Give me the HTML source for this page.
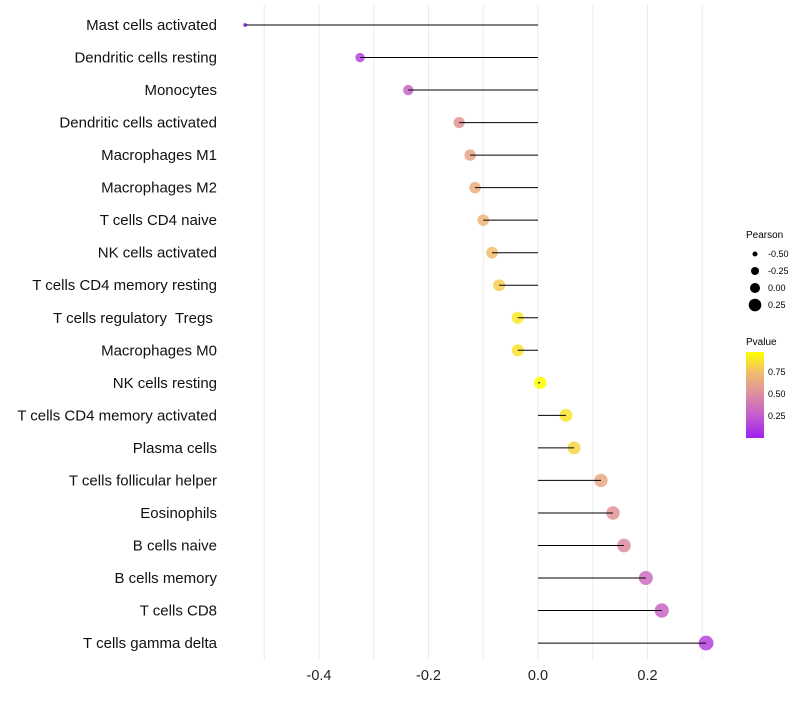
<!DOCTYPE html>
<html><head><meta charset="utf-8"><style>
body{margin:0;background:#fff;font-family:"Liberation Sans",sans-serif}
</style></head><body>
<svg id="chart" width="800" height="700" xmlns="http://www.w3.org/2000/svg">
<defs><linearGradient id="pg" x1="0" y1="1" x2="0" y2="0">
<stop offset="0" stop-color="#A020F0"/><stop offset="0.25" stop-color="#C25AD0"/>
<stop offset="0.5" stop-color="#DC8CA0"/><stop offset="0.75" stop-color="#F0BA70"/><stop offset="1" stop-color="#FFFF00"/>
</linearGradient></defs>
<g id="grid"></g><g id="points"></g><g id="stems"></g><g id="labels"></g>
<g font-size="9" fill="#000">
<text x="746" y="238" font-size="10">Pearson</text>
<circle cx="755" cy="254" r="2.5"/><text x="768" y="257">-0.50</text>
<circle cx="755" cy="271" r="4"/><text x="768" y="274">-0.25</text>
<circle cx="755" cy="288" r="5"/><text x="768" y="291">0.00</text>
<circle cx="755" cy="305" r="6.3"/><text x="768" y="308">0.25</text>
</g>
<g font-size="9" fill="#000">
<text x="746" y="345" font-size="10">Pvalue</text>
<rect x="746" y="352" width="18" height="86" fill="url(#pg)"/>
<text x="768" y="375">0.75</text><text x="768" y="397">0.50</text><text x="768" y="419">0.25</text>
</g>
</svg>
<script>
const categories=["Mast cells activated","Dendritic cells resting","Monocytes","Dendritic cells activated","Macrophages M1","Macrophages M2","T cells CD4 naive","NK cells activated","T cells CD4 memory resting","T cells regulatory  Tregs ","Macrophages M0","NK cells resting","T cells CD4 memory activated","Plasma cells","T cells follicular helper","Eosinophils","B cells naive","B cells memory","T cells CD8","T cells gamma delta"];
const pearson=[-0.535,-0.325,-0.237,-0.144,-0.124,-0.115,-0.100,-0.084,-0.071,-0.037,-0.037,0.004,0.051,0.066,0.115,0.137,0.157,0.197,0.226,0.307];
const pvalue=[0.05,0.15,0.3,0.55,0.62,0.68,0.72,0.76,0.82,0.92,0.9,1.0,0.9,0.85,0.65,0.55,0.5,0.35,0.3,0.15];
const xTicks=[-0.4,-0.2,0.0,0.2];
const xGrid=[-0.5,-0.4,-0.3,-0.2,-0.1,0,0.1,0.2,0.3];
const NS="http://www.w3.org/2000/svg";
const x=v=>538+v*547.5, y=i=>25+i*32.53;
const rad=v=>v<-0.45?2:Math.sqrt(11+52*(v+0.535));
const stops=[[160,32,240],[194,90,208],[220,140,160],[240,186,112],[255,255,0]];
function col(p){const t=Math.max(0,Math.min(1,p))*4;const i=Math.min(3,Math.floor(t)),f=t-i;const a=stops[i],b=stops[i+1];return `rgb(${a.map((c,k)=>Math.round(c+(b[k]-c)*f)).join(",")})`;}
function mk(tag,at,parent){const e=document.createElementNS(NS,tag);for(const k in at)e.setAttribute(k,at[k]);parent.appendChild(e);return e;}
const G=document.getElementById("grid"),P=document.getElementById("points"),S=document.getElementById("stems"),L=document.getElementById("labels");
xGrid.forEach(v=>{const l=mk("line",{x1:x(v),x2:x(v),y1:5,y2:660,stroke:"#ebebeb","stroke-width":1},G);

});
xTicks.forEach(v=>{const t=mk("text",{x:x(v),y:680,"text-anchor":"middle","font-size":14.5,fill:"#222"},L);t.textContent=v.toFixed(1);

});
categories.forEach((c,i)=>{
const t=mk("text",{x:217,y:y(i)+5,"text-anchor":"end","font-size":15,fill:"#111"},L);t.textContent=c;
t.setAttribute('style','white-space:pre');


const p=mk("circle",{cx:x(pearson[i]),cy:y(i),r:rad(pearson[i]),fill:col(pvalue[i]),"fill-opacity":0.85},P);


const s=mk("line",{x1:x(0),x2:x(pearson[i]),y1:y(i),y2:y(i),stroke:"#000","stroke-width":1},S);


});
</script>
</body></html>
